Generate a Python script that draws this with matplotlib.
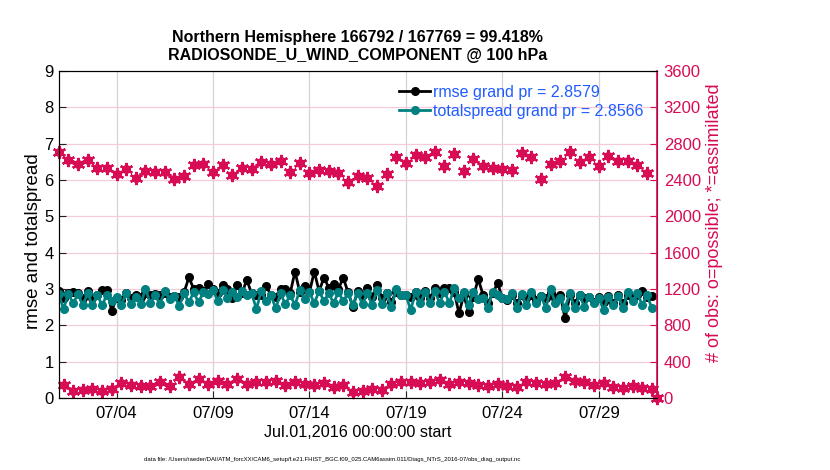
import numpy as np
import pandas as pd
import matplotlib
matplotlib.use("Agg")
import matplotlib.pyplot as plt
import matplotlib.dates as mdates

plt.rcParams['font.family'] = ['Liberation Sans', 'DejaVu Sans']

# rmse and totalspread, 6-hourly from 2016-07-01 00Z
rmse = [2.94, 2.74, 2.88, 2.93, 2.88, 2.74, 2.94, 2.74, 2.83, 2.97,
        2.97, 2.40, 2.76, 2.70, 2.88, 2.74, 2.83, 2.79, 2.88, 2.83,
        2.85, 2.83, 2.88, 2.79, 2.82, 2.79, 2.91, 3.32, 3.00, 3.04,
        2.94, 3.13, 3.00, 2.88, 3.11, 3.00, 2.74, 3.11, 2.88, 3.25,
        2.88, 2.83, 2.83, 3.09, 2.83, 2.79, 3.00, 3.00, 2.88, 3.48,
        2.91, 3.09, 2.91, 3.48, 2.94, 3.31, 3.04, 3.13, 3.00, 3.31,
        2.91, 2.51, 2.94,
        2.83, 3.04, 2.79, 3.11, 2.76, 2.88, 2.65, 2.93, 2.83, 2.83,
        2.79, 2.93, 2.74, 2.94, 2.74, 3.02, 2.88, 3.04, 3.04, 2.93,
        2.33, 2.83, 2.36, 2.79, 3.28, 2.83, 2.61, 2.88, 3.16, 2.76,
        2.70, 2.83, 2.61, 2.83, 2.74, 2.83, 2.70, 2.82, 2.74, 2.88,
        2.74, 2.83, 2.19, 2.83, 2.61, 2.83, 2.74, 2.79, 2.65, 2.79,
        2.65, 2.82, 2.61, 2.83, 2.61, 2.83, 2.74, 2.83, 2.94, 2.79,
        2.82]
totalspread = [2.86, 2.45, 2.86, 2.61, 2.86, 2.56, 2.88, 2.56, 2.83, 2.56,
               2.83, 2.67, 2.79, 2.56, 2.88, 2.58, 2.79, 2.58, 3.00, 2.61,
               2.83, 2.58, 2.94, 2.72, 2.82, 2.53, 2.88, 2.63, 2.91, 2.63,
               2.91, 2.85, 2.97, 2.67, 2.97, 2.76, 2.91, 2.79, 2.94, 2.83,
               2.88, 2.45, 2.94, 2.67, 2.83, 2.47, 2.88, 2.58, 2.83, 2.56,
               2.97, 2.72, 2.91, 2.61, 2.94, 2.67, 2.88, 2.61, 2.91, 2.67,
               2.88, 2.56, 2.88,
               2.58, 2.88, 2.56, 2.97, 2.58, 2.88, 2.51, 3.00, 2.83, 2.83,
               2.42, 2.93, 2.61, 2.93, 2.61, 2.94, 2.61, 2.93, 2.61, 3.02,
               2.74, 2.93, 2.56, 2.93, 2.72, 2.74, 2.49, 2.93, 2.83, 2.74,
               2.72, 2.88, 2.49, 2.85, 2.56, 2.93, 2.61, 2.82, 2.47, 3.00,
               2.61, 2.74, 2.49, 2.88, 2.47, 2.83, 2.51, 2.79, 2.61, 2.76,
               2.42, 2.79, 2.56, 2.82, 2.47, 2.91, 2.67, 2.88, 2.56, 2.83,
               2.47]

# obs counts at 00Z/12Z (Jul 1 00Z .. Aug 1 00Z)
obs_synoptic = [2705, 2620, 2580, 2620, 2536, 2536, 2466, 2517, 2418, 2503,
                2484, 2484, 2415, 2448, 2569, 2580, 2484, 2561, 2455, 2536,
                2525, 2595, 2573, 2609, 2484, 2584, 2481, 2507, 2496, 2473,
                2374, 2448, 2426, 2338, 2462, 2657, 2584, 2675, 2650, 2712,
                2554, 2683, 2503, 2628, 2554, 2536, 2521, 2510, 2701, 2657,
                2407, 2573, 2609, 2712, 2602, 2657, 2558, 2668, 2609, 2609,
                2565, 2473, 0]
# obs counts at 06Z/18Z (Jul 1 06Z .. Jul 31 18Z)
obs_offsynoptic = [143, 81, 88, 95, 81, 95, 161, 143, 132, 132,
                   180, 132, 235, 154, 209, 150, 187, 150, 209, 154,
                   176, 172, 184, 147, 172, 154, 143, 165, 125, 143,
                   70, 81, 95, 88, 150, 180, 172, 165, 176, 198,
                   154, 176, 161, 143, 132, 154, 132, 117, 172, 161,
                   150, 169, 235, 184, 172, 147, 161, 117, 106, 132,
                   106, 103]

rmse_label = 'rmse grand pr = 2.8579'
spread_label = 'totalspread grand pr = 2.8566'
title = ('Northern Hemisphere 166792 / 167769 = 99.418%\n'
         'RADIOSONDE_U_WIND_COMPONENT @ 100 hPa')
footer = ('data file: /Users/raeder/DAI/ATM_forcXX/CAM6_setup/'
          'f.e21.FHIST_BGC.f09_025.CAM6assim.011/Diags_NTrS_2016-07/obs_diag_output.nc')

RED = '#d80b55'
TEAL = '#008080'
BLUE = '#1f5cff'

t_err = pd.date_range('2016-07-01 00:00', periods=len(rmse), freq='6h')
t_syn = pd.date_range('2016-07-01 00:00', periods=len(obs_synoptic), freq='12h')
t_off = pd.date_range('2016-07-01 06:00', periods=len(obs_offsynoptic), freq='12h')

fig = plt.figure(figsize=(8.3, 4.7), dpi=100)
ax = fig.add_axes([0.0707, 0.1532, 0.7205, 0.6958])
ax2 = ax.twinx()

ax.plot(t_err, rmse, color='black', lw=2.0, marker='o', ms=5.5, label=rmse_label, zorder=3)
ax.plot(t_err, totalspread, color=TEAL, lw=2.0, marker='o', ms=5.5, label=spread_label, zorder=4)

for tt, cc in [(t_syn, obs_synoptic), (t_off, obs_offsynoptic)]:
    ax2.plot(tt, cc, ls='none', marker='o', ms=5.5, color=RED, clip_on=False)
    ax2.plot(tt, cc, ls='none', marker=(6, 2, 0), ms=9.5, mew=1.7, color=RED, clip_on=False)

ax.set_xlim(pd.Timestamp('2016-07-01'), pd.Timestamp('2016-08-01'))
ax.set_ylim(0, 9)
ax.set_yticks(range(0, 10))
ax2.set_ylim(0, 3600)
ax2.set_yticks(range(0, 3601, 400))

ax.xaxis.set_major_locator(mdates.DayLocator(bymonthday=[4, 9, 14, 19, 24, 29]))
ax.xaxis.set_major_formatter(mdates.DateFormatter('%m/%d'))

ax.set_axisbelow(True)
ax.xaxis.grid(True, color='#d4d4d4', lw=0.9)
ax.yaxis.grid(True, color='#f6cadb', lw=0.9)

ax.tick_params(direction='in', labelsize=12, length=5, color='#222222')
ax.tick_params(axis='x', pad=6)
ax2.tick_params(direction='in', labelsize=12, length=5, colors=RED, pad=5)
ax2.spines['right'].set_color(RED)
ax2.spines['right'].set_linewidth(1.2)
for s in ['left', 'top', 'bottom']:
    ax.spines[s].set_color('#222222')

ax.set_ylabel('rmse and totalspread', fontsize=13.5)
ax.yaxis.set_label_coords(-0.028, 0.48)
ax2.set_ylabel('# of obs: o=possible; *=assimilated', fontsize=13, color=RED)
ax2.yaxis.set_label_coords(1.083, 0.535)
ax.set_xlabel('Jul.01,2016 00:00:00 start', fontsize=11.6, labelpad=3)
ax.set_title(title, fontsize=11.5, fontweight='bold', pad=8, linespacing=1.25)

ax.legend(loc='upper right', bbox_to_anchor=(1.0, 1.0), frameon=False, fontsize=11.5,
          labelcolor=BLUE, handlelength=1.95, handletextpad=0.15, borderaxespad=0.45,
          labelspacing=0.25)

fig.text(0.40, 0.018, footer, fontsize=4.3, ha='center', va='bottom')

fig.savefig('out.png', dpi=100)
plt.close(fig)
